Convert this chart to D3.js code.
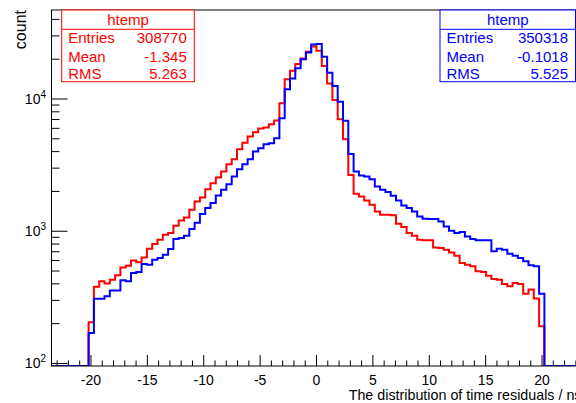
<!DOCTYPE html>
<html><head><meta charset="utf-8">
<script src="https://cdn.jsdelivr.net/npm/d3@7"></script>
<style>
html,body{margin:0;padding:0;background:#fff;}
svg{display:block;font-family:"Liberation Sans",Arial,Helvetica,sans-serif;}
</style></head>
<body>
<svg id="c" width="576" height="403"></svg>
<script>
// ---- data ----
const xRange = [-23.5, 23.5];
const nBins = 100;
const firstFilledBin = 7;
const redCounts = [205,380,418,402,430,464,533,549,602,582,634,738,800,863,942,969,1101,1208,1272,1453,1679,
  1799,2079,2310,2547,2826,3213,3506,4171,4678,5196,5608,5975,6077,6445,6863,
  9281,14090,16380,18370,20270,22750,25000,23190,17740,13120,9820,7030,4965,
  2667,1919,1832,1709,1585,1413,1334,1330,1320,1140,1076,969,925,863,853,853,755,747,725,692,653,575,558,543,498,492,461,435,430,399,383,406,399,337,362,310,191];
const blueCounts = [170,308,308,322,356,356,426,418,483,492,565,558,609,628,665,734,873,889,925,1040,1160,
  1349,1497,1633,1864,2057,2270,2593,2945,3213,3506,4002,4243,4547,4630,5050,
  7150,11830,14320,17050,19960,22510,25800,26000,20840,15810,12530,9540,6860,
  3846,2827,2636,2593,2477,2178,2057,1976,1853,1709,1567,1497,1413,1295,1243,1236,1236,1186,1087,1009,969,986,914,873,853,853,853,705,738,725,676,653,628,592,552,543,337];
const xTickLabels = [-20,-15,-10,-5,0,5,10,15,20];
const yTickLabels = [{base:"10",exp:"2",v:100},{base:"10",exp:"3",v:1000},{base:"10",exp:"4",v:10000}];
const statsRed = {title:"htemp", rows:[["Entries","308770"],["Mean","-1.345"],["RMS","5.263"]]};
const statsBlue = {title:"htemp", rows:[["Entries","350318"],["Mean","-0.1018"],["RMS","5.525"]]};

// ---- layout ----
const L = 51.5, R = 581.5, T = 10, B = 366;
const svg = d3.select("#c");
const x = d3.scaleLinear().domain(xRange).range([L, R]);
const y = d3.scaleLog().domain([95.7, 47100]).range([B, T]);

function fullContents(arr){
  const c = new Array(nBins).fill(0);
  arr.forEach((v,i)=>{ c[firstFilledBin+i] = v; });
  return c;
}
const bw = (xRange[1]-xRange[0])/nBins;
function histPath(arr){
  const c = fullContents(arr);
  const pts = [[x(xRange[0]), B]];
  c.forEach((v,i)=>{
    const yy = v > y.domain()[0] ? y(v) : B;
    pts.push([x(xRange[0]+i*bw), yy]);
    pts.push([x(xRange[0]+(i+1)*bw), yy]);
  });
  pts.push([x(xRange[1]), B]);
  return d3.line()(pts);
}

svg.append("clipPath").attr("id","clip").append("rect")
  .attr("x",L).attr("y",T).attr("width",R-L).attr("height",B-T);

const g = svg.append("g").attr("clip-path","url(#clip)");
g.append("path").attr("d",histPath(redCounts)).attr("fill","none").attr("stroke","#ff0000").attr("stroke-width",2);
g.append("path").attr("d",histPath(blueCounts)).attr("fill","none").attr("stroke","#0000ff").attr("stroke-width",2);

// frame
svg.append("rect").attr("x",L).attr("y",T).attr("width",R-L).attr("height",B-T)
  .attr("fill","none").attr("stroke","#000").attr("stroke-width",1);

// x ticks
const ax = svg.append("g").attr("stroke","#000").attr("stroke-width",1);
d3.range(-23, 24).forEach(v=>{
  const major = v % 5 === 0;
  ax.append("line").attr("x1",x(v)).attr("x2",x(v)).attr("y1",B).attr("y2",B-(major?11:5.5));
});
svg.append("g").selectAll("text").data(xTickLabels).join("text")
  .attr("x",d=>x(d)).attr("y",385).attr("text-anchor","middle")
  .attr("font-size",14).text(d=>d);
svg.append("text").attr("x",R).attr("y",399.5).attr("text-anchor","end")
  .attr("font-size",14.3).text("The distribution of time residuals / ns");

// y ticks
const yd = y.domain();
for (let e=2; e<=4; e++){
  for (let m=1; m<=9; m++){
    const v = m*Math.pow(10,e);
    if (v < yd[0] || v > yd[1]) continue;
    ax.append("line").attr("x1",L).attr("x2",L+(m===1?16:8)).attr("y1",y(v)).attr("y2",y(v));
  }
}
yTickLabels.forEach(t=>{
  const tx = svg.append("text").attr("x",46).attr("y",y(t.v)+5).attr("text-anchor","end").attr("font-size",14);
  tx.append("tspan").text(t.base);
  tx.append("tspan").attr("font-size",10).attr("dy",-6).text(t.exp);
});
svg.append("text").attr("transform","translate(25.5,10) rotate(-90)").attr("text-anchor","end")
  .attr("font-size",16).text("count");

// stats boxes
function statsBox(s, x0, x1, color){
  const gb = svg.append("g");
  gb.append("rect").attr("x",x0).attr("y",10).attr("width",x1-x0).attr("height",71.7)
    .attr("fill","#fff").attr("stroke",color).attr("stroke-width",1);
  gb.append("line").attr("x1",x0).attr("x2",x1).attr("y1",29.3).attr("y2",29.3).attr("stroke",color);
  gb.append("text").attr("x",(x0+x1)/2).attr("y",25).attr("text-anchor","middle")
    .attr("font-size",15).attr("fill",color).text(s.title);
  const bl = [43, 61.5, 78.5];
  s.rows.forEach((r,i)=>{
    gb.append("text").attr("x",x0+6.5).attr("y",bl[i]).attr("font-size",15).attr("fill",color).text(r[0]);
    gb.append("text").attr("x",x1-7.5).attr("y",bl[i]).attr("text-anchor","end").attr("font-size",15).attr("fill",color).text(r[1]);
  });
}
statsBox(statsRed, 61.7, 194.3, "#ff0000");
statsBox(statsBlue, 440, 575.5, "#0000ff");
</script>
</body></html>
